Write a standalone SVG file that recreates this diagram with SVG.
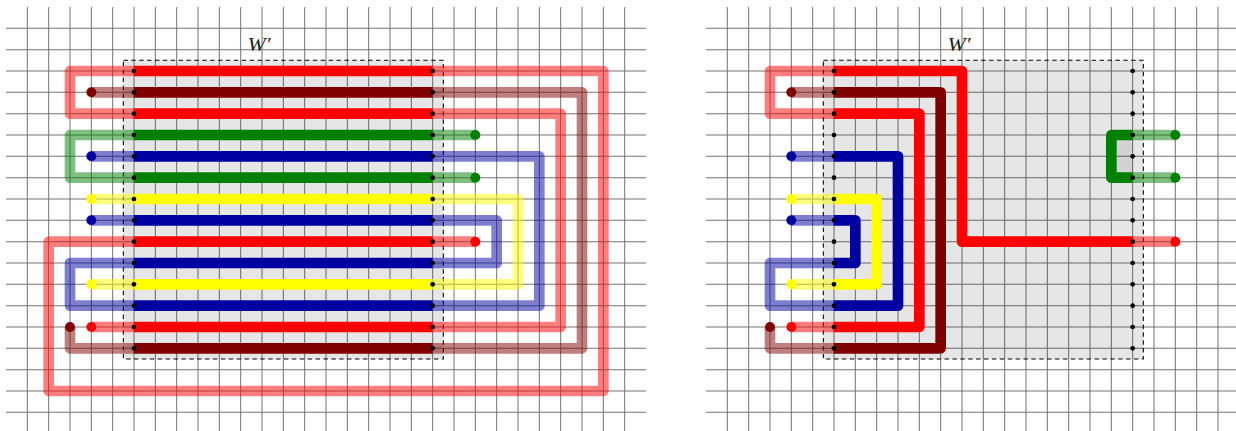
<svg xmlns="http://www.w3.org/2000/svg" width="1236" height="431" viewBox="0 0 1236 431">
<defs>
<style>
.gridl{fill:none;stroke:#000;stroke-opacity:.55;stroke-width:.047}
.boxf{fill:#808080;fill-opacity:.2;stroke:none}
.boxs{fill:none;stroke:#000;stroke-width:.05;stroke-dasharray:.21 .16}
.s{fill:none;stroke-width:.5;stroke-linejoin:round;stroke-linecap:butt}
.t{fill:none;stroke-width:.5;stroke-linejoin:round;stroke-linecap:butt;stroke-opacity:.5}
.r{stroke:#ff0000}.d{stroke:#800000}.g{stroke:#008000}.b{stroke:#0000a0}.y{stroke:#ffff00}
.fr{fill:#ff0000}.fd{fill:#800000}.fg{fill:#008000}.fb{fill:#0000a0}.fy{fill:#ffff00}
.pt{fill:#000}
</style>
<path id="grid" class="gridl" d="M0-1V19M1-1V19M2-1V19M3-1V19M4-1V19M5-1V19M6-1V19M7-1V19M8-1V19M9-1V19M10-1V19M11-1V19M12-1V19M13-1V19M14-1V19M15-1V19M16-1V19M17-1V19M18-1V19M19-1V19M20-1V19M21-1V19M22-1V19M23-1V19M24-1V19M25-1V19M26-1V19M27-1V19M28-1V19M-1 0H29M-1 1H29M-1 2H29M-1 3H29M-1 4H29M-1 5H29M-1 6H29M-1 7H29M-1 8H29M-1 9H29M-1 10H29M-1 11H29M-1 12H29M-1 13H29M-1 14H29M-1 15H29M-1 16H29M-1 17H29M-1 18H29"/>
<g id="pts" class="pt">
<circle cx="5" cy="2" r=".11"/><circle cx="5" cy="3" r=".11"/><circle cx="5" cy="4" r=".11"/><circle cx="5" cy="5" r=".11"/><circle cx="5" cy="6" r=".11"/><circle cx="5" cy="7" r=".11"/><circle cx="5" cy="8" r=".11"/><circle cx="5" cy="9" r=".11"/><circle cx="5" cy="10" r=".11"/><circle cx="5" cy="11" r=".11"/><circle cx="5" cy="12" r=".11"/><circle cx="5" cy="13" r=".11"/><circle cx="5" cy="14" r=".11"/><circle cx="5" cy="15" r=".11"/>
<circle cx="19" cy="2" r=".11"/><circle cx="19" cy="3" r=".11"/><circle cx="19" cy="4" r=".11"/><circle cx="19" cy="5" r=".11"/><circle cx="19" cy="6" r=".11"/><circle cx="19" cy="7" r=".11"/><circle cx="19" cy="8" r=".11"/><circle cx="19" cy="9" r=".11"/><circle cx="19" cy="10" r=".11"/><circle cx="19" cy="11" r=".11"/><circle cx="19" cy="12" r=".11"/><circle cx="19" cy="13" r=".11"/><circle cx="19" cy="14" r=".11"/><circle cx="19" cy="15" r=".11"/>
</g>
</defs>

<g id="left-panel" transform="translate(27.333,28.333) scale(21.3333)">
  <rect id="left-box-fill" class="boxf" x="4.5" y="1.5" width="15" height="14"/>
  <use href="#grid"/>
  <rect id="left-box" class="boxs" x="4.5" y="1.5" width="15" height="14"/>
  <g id="left-connectors">
    <path class="t r" d="M5 2H2V4H5"/>
    <path class="t d" d="M3 3H5"/>
    <path class="t g" d="M5 5H2V7H5"/>
    <path class="t b" d="M3 6H5"/>
    <path class="t y" d="M3 8H5"/>
    <path class="t b" d="M3 9H5"/>
    <path class="t r" d="M5 10H1V17H27V2H19"/>
    <path class="t b" d="M5 11H2V13H5"/>
    <path class="t y" d="M3 12H5"/>
    <path class="t r" d="M3 14H5"/>
    <path class="t d" d="M2 14V15H5"/>
    <path class="t d" d="M19 3H26V15H19"/>
    <path class="t r" d="M19 4H25V14H19"/>
    <path class="t g" d="M19 5H21"/>
    <path class="t g" d="M19 7H21"/>
    <path class="t b" d="M19 6H24V13H19"/>
    <path class="t y" d="M19 8H23V12H19"/>
    <path class="t b" d="M19 9H22V11H19"/>
    <path class="t r" d="M19 10H21"/>
    <path class="s r" d="M5 2H19"/>
    <path class="s d" d="M5 3H19"/>
    <path class="s r" d="M5 4H19"/>
    <path class="s g" d="M5 5H19"/>
    <path class="s b" d="M5 6H19"/>
    <path class="s g" d="M5 7H19"/>
    <path class="s y" d="M5 8H19"/>
    <path class="s b" d="M5 9H19"/>
    <path class="s r" d="M5 10H19"/>
    <path class="s b" d="M5 11H19"/>
    <path class="s y" d="M5 12H19"/>
    <path class="s b" d="M5 13H19"/>
    <path class="s r" d="M5 14H19"/>
    <path class="s d" d="M5 15H19"/>
  </g>
  <g id="left-terminals">
    <circle class="fd" cx="3" cy="3" r=".234"/>
    <circle class="fb" cx="3" cy="6" r=".234"/>
    <circle class="fy" cx="3" cy="8" r=".234"/>
    <circle class="fb" cx="3" cy="9" r=".234"/>
    <circle class="fy" cx="3" cy="12" r=".234"/>
    <circle class="fd" cx="2" cy="14" r=".234"/>
    <circle class="fr" cx="3" cy="14" r=".234"/>
    <circle class="fg" cx="21" cy="5" r=".234"/>
    <circle class="fg" cx="21" cy="7" r=".234"/>
    <circle class="fr" cx="21" cy="10" r=".234"/>
  </g>
  <use href="#pts"/>
</g>
<text id="left-label" x="247.5" y="51" font-family="'Liberation Serif', serif" font-style="italic" font-size="18" fill="#222" textLength="23" lengthAdjust="spacingAndGlyphs">W′</text>

<g id="right-panel" transform="translate(727.333,28.333) scale(21.3333)">
  <rect id="right-box-fill" class="boxf" x="4.5" y="1.5" width="15" height="14"/>
  <rect class="boxf" x="18" y="5" width="1" height="2"/>
  <use href="#grid"/>
  <rect id="right-box" class="boxs" x="4.5" y="1.5" width="15" height="14"/>
  <g id="right-connectors">
    <path class="t r" d="M5 2H2V4H5"/>
    <path class="t d" d="M3 3H5"/>
    <path class="t b" d="M3 6H5"/>
    <path class="t y" d="M3 8H5"/>
    <path class="t b" d="M3 9H5"/>
    <path class="t b" d="M5 11H2V13H5"/>
    <path class="t y" d="M3 12H5"/>
    <path class="t r" d="M3 14H5"/>
    <path class="t d" d="M2 14V15H5"/>
    <path class="t g" d="M19 5H21"/>
    <path class="t g" d="M19 7H21"/>
    <path class="t r" d="M19 10H21"/>
    <path class="s r" d="M5 2H11V10H19"/>
    <path class="s d" d="M5 3H10V15H5"/>
    <path class="s r" d="M5 4H9V14H5"/>
    <path class="s b" d="M5 6H8V13H5"/>
    <path class="s y" d="M5 8H7V12H5"/>
    <path class="s b" d="M5 9H6V11H5"/>
    <path class="s g" d="M19 5H18V7H19"/>
  </g>
  <g id="right-terminals">
    <circle class="fd" cx="3" cy="3" r=".234"/>
    <circle class="fb" cx="3" cy="6" r=".234"/>
    <circle class="fy" cx="3" cy="8" r=".234"/>
    <circle class="fb" cx="3" cy="9" r=".234"/>
    <circle class="fy" cx="3" cy="12" r=".234"/>
    <circle class="fd" cx="2" cy="14" r=".234"/>
    <circle class="fr" cx="3" cy="14" r=".234"/>
    <circle class="fg" cx="21" cy="5" r=".234"/>
    <circle class="fg" cx="21" cy="7" r=".234"/>
    <circle class="fr" cx="21" cy="10" r=".234"/>
  </g>
  <use href="#pts"/>
</g>
<text id="right-label" x="947.5" y="51" font-family="'Liberation Serif', serif" font-style="italic" font-size="18" fill="#222" textLength="23" lengthAdjust="spacingAndGlyphs">W′</text>
</svg>
